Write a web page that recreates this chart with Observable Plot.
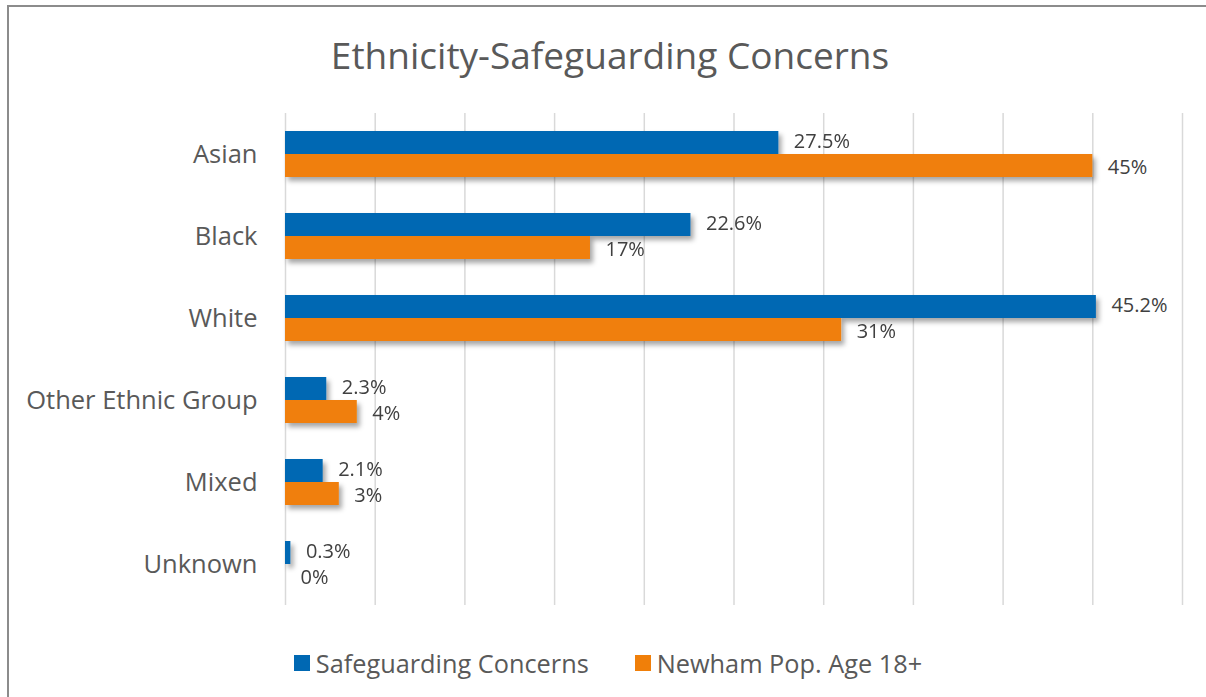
<!DOCTYPE html>
<html>
<head>
<meta charset="utf-8">
<script src="https://cdn.jsdelivr.net/npm/d3@7"></script>
<script src="https://cdn.jsdelivr.net/npm/@observablehq/plot@0.6"></script>
<style>
  html, body { margin: 0; padding: 0; background: #fff; }
  body { width: 1206px; height: 697px; position: relative; overflow: hidden; font-family: "Open Sans", sans-serif; }
  #frame { position: absolute; left: 7px; top: 5px; width: 1400px; height: 900px; border: 2px solid #8c8c8c; box-sizing: border-box; }
  #title { position: absolute; left: 8px; width: 1204px; top: 28px; text-align: center; font-size: 37px; color: #595959; line-height: 54px; }
  #chart { position: absolute; left: 0; top: 100px; }
  #legend { position: absolute; left: 6px; width: 1204px; top: 645px; text-align: center; font-size: 25.3px; color: #595959; line-height: 32px; white-space: nowrap; }
  .item { display: inline-flex; align-items: center; margin: 0 23px; }
  .sw { display: inline-block; width: 16px; height: 16px; margin-right: 6px; }
  g[aria-label="fy-axis tick label"] text { font-size: 25.5px; fill: #595959; }
</style>
</head>
<body>
<div id="frame"></div>
<div id="title">Ethnicity-Safeguarding Concerns</div>
<div id="chart"></div>
<div id="legend"></div>
<script>
const categories = ["Asian", "Black", "White", "Other Ethnic Group", "Mixed", "Unknown"];
const seriesNames = ["Safeguarding Concerns", "Newham Pop. Age 18+"];
const safeguarding = [27.5, 22.6, 45.2, 2.3, 2.1, 0.3];
const newham = [45, 17, 31, 4, 3, 0];
const gridTicks = [0, 5, 10, 15, 20, 25, 30, 35, 40, 45, 50];
const colors = ["#0068b3", "#f07f09"];

const data = [];
categories.forEach((c, i) => {
  data.push({category: c, series: seriesNames[0], value: safeguarding[i]});
  data.push({category: c, series: seriesNames[1], value: newham[i]});
});

const labelOpts = {x: "value", y: "series", fy: "category", text: d => d.value + "%", dx: 15, textAnchor: "start", fontSize: 20, fill: "#404040"};

const plot = Plot.plot({
  width: 1206,
  height: 520,
  marginLeft: 285,
  marginRight: 24,
  marginTop: 12,
  marginBottom: 15,
  style: {fontFamily: "'Open Sans', sans-serif", background: "transparent"},
  x: {domain: [0, 50], axis: null},
  y: {domain: seriesNames, paddingInner: 0, paddingOuter: 0.745, axis: null},
  fy: {domain: categories, padding: 0, label: null, tickSize: 0, tickPadding: 28},
  color: {domain: seriesNames, range: colors},
  marks: [
    Plot.ruleX(gridTicks, {stroke: "#d9d9d9", strokeWidth: 1.5}),
    Plot.barX(data, {x: "value", y: "series", fy: "category", fill: "series"}),
    Plot.text(data.filter(d => d.series === seriesNames[0]), {...labelOpts, dy: -1.5}),
    Plot.text(data.filter(d => d.series === seriesNames[1]), {...labelOpts, dy: 1.5})
  ]
});

// drop shadow on bars
const svg = d3.select(plot);
const defs = svg.insert("defs", ":first-child");
const f = defs.append("filter").attr("id", "shadow").attr("x", "-10%").attr("y", "-30%").attr("width", "130%").attr("height", "180%");
f.append("feDropShadow").attr("dx", 3).attr("dy", 4).attr("stdDeviation", 2.5).attr("flood-color", "#000").attr("flood-opacity", 0.35);
svg.selectAll('g[aria-label="bar"]').attr("filter", "url(#shadow)");

document.getElementById("chart").appendChild(plot);

const legend = document.getElementById("legend");
seriesNames.forEach((s, i) => {
  const it = document.createElement("span");
  it.className = "item";
  const sw = document.createElement("span");
  sw.className = "sw";
  sw.style.background = colors[i];
  it.appendChild(sw);
  it.appendChild(document.createTextNode(s));
  legend.appendChild(it);
});
</script>
</body>
</html>
